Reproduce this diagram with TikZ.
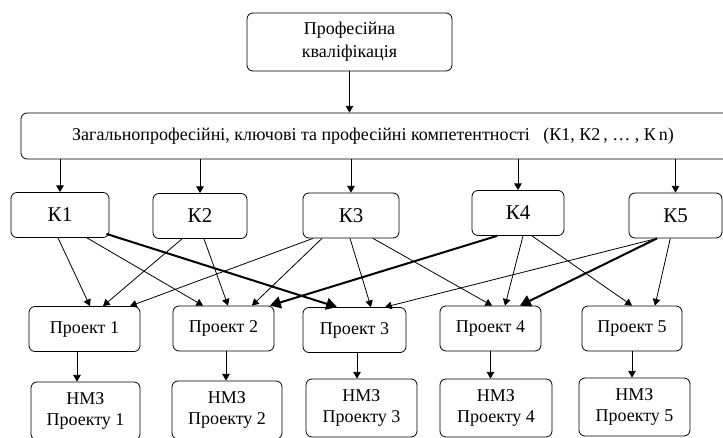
\documentclass[tikz,border=0pt]{standalone}
\usepackage{fontspec}
\setmainfont{Liberation Serif}
\usetikzlibrary{arrows}

\begin{document}
\begin{tikzpicture}[x=1pt, y=-1pt, -triangle 60, line width=0.8pt,
        box/.style={draw, rounded corners=6pt, align=center, inner sep=0pt, font=\fontsize{18}{21}\selectfont},
        kbox/.style={box, minimum height=45, font=\fontsize{21}{25}\selectfont},
        pbox/.style={box, minimum height=45},
        nbox/.style={box, minimum height=58},
        heavy/.style={line width=2pt}]
        \useasboundingbox (0,0) rectangle (723,438);

        \node [box, minimum width=205, minimum height=58, font=\fontsize{18}{23}\selectfont] (qual) at (349.5,42) {Професійна\\кваліфікація};
        \node [box, minimum width=712, minimum height=46] (comp) at (377,136) {Загальнопрофесійні, ключові та професійні компетентності \ \ (К1, К2\,, … , К\,n)\hspace{8pt}};

        \node [kbox, minimum width=98] (k1) at (60,215) {К1};
        \node [kbox, minimum width=94] (k2) at (200,216) {К2};
        \node [kbox, minimum width=96] (k3) at (351,215.5) {К3};
        \node [kbox, minimum width=92] (k4) at (518,213) {К4};
        \node [kbox, minimum width=93] (k5) at (675.5,215.5) {К5};

        \node [pbox, minimum width=111] (p1) at (84.5,329) {Проект 1};
        \node [pbox, minimum width=101] (p2) at (223.5,328.5) {Проект 2};
        \node [pbox, minimum width=103] (p3) at (354.5,330) {Проект 3};
        \node [pbox, minimum width=101] (p4) at (490.5,328.5) {Проект 4};
        \node [pbox, minimum width=100] (p5) at (632,328.5) {Проект 5};

        \node [nbox, minimum width=109] (n1) at (85.5,411) {НМЗ\\Проекту 1};
        \node [nbox, minimum width=110] (n2) at (227,410) {НМЗ\\Проекту 2};
        \node [nbox, minimum width=111] (n3) at (361.5,408) {НМЗ\\Проекту 3};
        \node [nbox, minimum width=112] (n4) at (496,408) {НМЗ\\Проекту 4};
        \node [nbox, minimum width=111] (n5) at (634.5,407) {НМЗ\\Проекту 5};

        % qualification -> competences -> K
        \draw (qual) -- (qual |- comp.north);
        \draw (comp.south -| k1) -- (k1);
        \draw (comp.south -| k2) -- (k2);
        \draw (comp.south -| k3) -- (k3);
        \draw (comp.south -| k4) -- (k4);
        \draw (comp.south -| k5) -- (k5);

        % K -> projects
        \draw ([xshift=-2pt]k1.south) -- ([xshift=5.5pt]p1.north);
        \draw ([xshift=27pt]k1.south) -- ([xshift=-20.5pt]p2.north);
        \draw [heavy] ([xshift=-3pt,yshift=4pt]k1.south east) -- ([xshift=-17.5pt]p3.north);
        \draw ([xshift=-18pt]k2.south) -- ([xshift=18.5pt]p1.north);
        \draw ([xshift=4pt]k2.south) -- ([xshift=4.5pt]p2.north);
        \draw ([xshift=-38pt]k3.south) -- ([xshift=45.5pt]p1.north);
        \draw ([xshift=-29pt]k3.south) -- ([xshift=28.5pt]p2.north);
        \draw ([xshift=-1pt]k3.south) -- ([xshift=16.5pt]p3.north);
        \draw ([xshift=22pt]k3.south) -- ([xshift=1.5pt]p4.north);
        \draw [heavy] ([xshift=-21pt]k4.south) -- ([xshift=46.5pt]p2.north);
        \draw ([xshift=5pt]k4.south) -- ([xshift=14.5pt]p4.north);
        \draw ([xshift=14pt]k4.south) -- (p5.north);
        \draw ([xshift=-18.5pt]k5.south) -- ([xshift=30.5pt]p3.north);
        \draw [heavy] ([xshift=-18.5pt]k5.south) -- ([xshift=29.5pt]p4.north);
        \draw (k5) -- ([xshift=23pt]p5.north);

        % projects -> NMZ
        \draw ([xshift=-7.5pt]p1.south) -- ([xshift=-7.5pt]p1.south |- n1.north);
        \draw ([xshift=2.5pt]p2.south) -- ([xshift=2.5pt]p2.south |- n2.north);
        \draw ([xshift=2.5pt]p3.south) -- ([xshift=2.5pt]p3.south |- n3.north);
        \draw (p4) -- (p4 |- n4.north);
        \draw (p5) -- (p5 |- n5.north);
\end{tikzpicture}
\end{document}
